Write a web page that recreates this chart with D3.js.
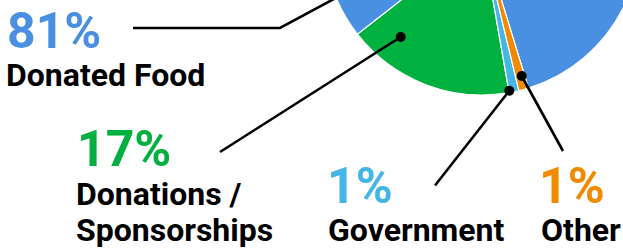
<!DOCTYPE html>
<html><head><meta charset="utf-8">
<script src="https://cdn.jsdelivr.net/npm/d3@7"></script>
<style>html,body{margin:0;padding:0;background:#fff;}svg{display:block;}</style>
</head><body>
<svg id="chart" width="623" height="248"></svg>
<script>
const categories = ["Donated Food", "Donations / Sponsorships", "Government", "Other"];
const values = [80.8, 17.2, 1.0, 1.0];
const pctLabels = ["81%", "17%", "1%", "1%"];
const colors = ["#4a90e2", "#00b140", "#45b5e6", "#f08a00"];

const svg = d3.select("#chart");
const cx = 482, cy = -63, R = 158;
const deg = Math.PI / 180;
const start = 162.9 * deg;

const pie = d3.pie().sort(null).value(d => d).startAngle(start).endAngle(start - 2 * Math.PI);
const arcs = pie(values);
const arc = d3.arc().innerRadius(0).outerRadius(R);

const g = svg.append("g").attr("transform", `translate(${cx},${cy})`);
g.selectAll("path").data(arcs).join("path")
  .attr("d", arc)
  .attr("fill", (d, i) => colors[i])
  .attr("stroke", "#fff").attr("stroke-width", 1.2);

const leaders = [
  { dot: [384, -28], pts: [[133, 28], [280, 28]] },
  { dot: [400.7, 37], pts: [[220, 152]] },
  { dot: [509.3, 90.7], pts: [[435, 185.5]] },
  { dot: [521.7, 76], pts: [[563, 151]] }
];
leaders.forEach(l => {
  const all = l.pts.concat([l.dot]);
  svg.append("path")
    .attr("d", d3.line()(all))
    .attr("fill", "none").attr("stroke", "#000").attr("stroke-width", 2.6);
  svg.append("circle").attr("cx", l.dot[0]).attr("cy", l.dot[1]).attr("r", 5).attr("fill", "#000");
});

const font = "Roboto, 'Noto Sans', sans-serif";
const labels = [
  { px: 7, py: 48, x: 6, lines: ["Donated Food"], ly: 86 },
  { px: 77, py: 166, x: 76, lines: ["Donations /", "Sponsorships"], ly: 205 },
  { px: 327, py: 203, x: 328, lines: ["Government"], ly: 241 },
  { px: 539, py: 203, x: 541, lines: ["Other"], ly: 241 }
];
labels.forEach((l, i) => {
  svg.append("text").attr("x", l.px).attr("y", l.py)
    .attr("font-family", font).attr("font-weight", 700).attr("font-size", 50)
    .attr("fill", colors[i]).text(pctLabels[i]);
  l.lines.forEach((t, j) => {
    svg.append("text").attr("x", l.x).attr("y", l.ly + j * 36)
      .attr("font-family", font).attr("font-weight", 700).attr("font-size", 32)
      .attr("fill", "#000").text(t);
  });
});
</script>
</body></html>
